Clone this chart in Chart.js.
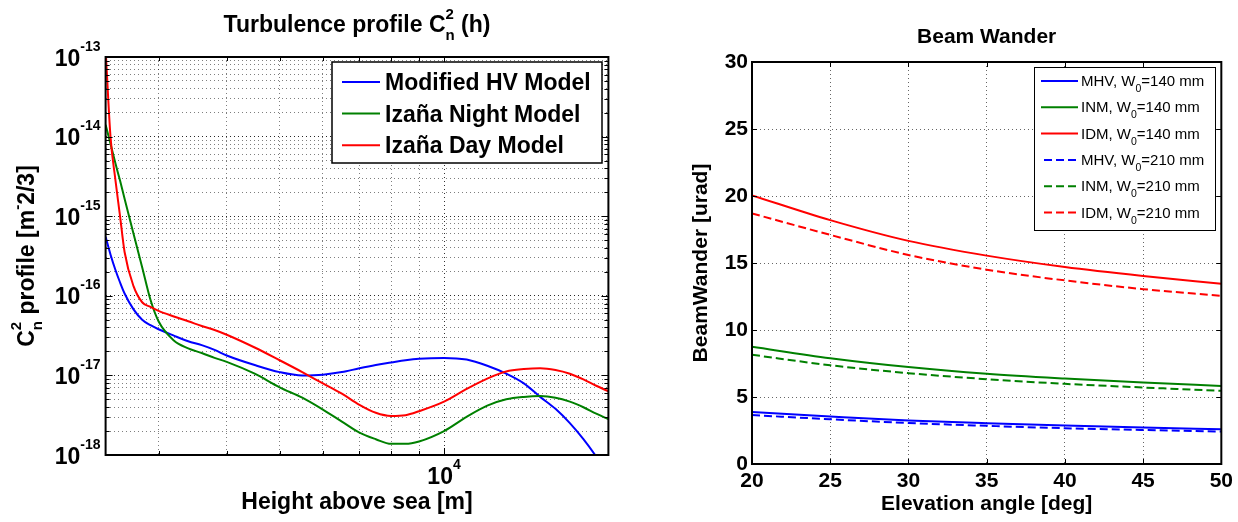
<!DOCTYPE html>
<html>
<head>
<meta charset="utf-8">
<script src="https://cdn.jsdelivr.net/npm/chart.js@4.4.0/dist/chart.umd.min.js"></script>
<style>
  html, body { margin: 0; padding: 0; background: #fff; }
  #left { position: absolute; left: 0; top: 0; width: 640px; height: 522px; }
  #right { position: absolute; left: 640px; top: 0; width: 598px; height: 522px; }
</style>
</head>
<body>
<div id="left"><canvas id="profileChart"></canvas></div>
<div id="right"><canvas id="wanderChart"></canvas></div>
<script>
// ---- turbulence profile (left) ----
const heights = [2400, 2450, 2500, 2550, 2600, 2700, 2800, 2900, 3000, 3200, 3400, 3600, 3800, 4000,
  4500, 5000, 5500, 6000, 6500, 7000, 7500, 8000, 8500, 9000, 10000, 11000, 12000, 13000, 14000,
  15000, 16000, 17000, 18000, 19000, 20000];
const cn2MHV = [5.5e-16, 3.31e-16, 2.14e-16, 1.48e-16, 1.07e-16, 6.76e-17, 5.01e-17, 4.27e-17, 3.8e-17,
  3.16e-17, 2.69e-17, 2.4e-17, 2.09e-17, 1.78e-17, 1.35e-17, 1.1e-17, 1.0e-17, 1.02e-17, 1.1e-17,
  1.23e-17, 1.35e-17, 1.45e-17, 1.55e-17, 1.62e-17, 1.66e-17, 1.58e-17, 1.32e-17, 1.05e-17, 7.94e-18,
  5.37e-18, 3.8e-18, 2.51e-18, 1.58e-18, 9.55e-19, 5.62e-19];
const cn2Night = [1.41e-14, 8.13e-15, 4.68e-15, 2.82e-15, 1.66e-15, 6.03e-16, 2.29e-16, 8.91e-17, 4.79e-17,
  2.75e-17, 2.19e-17, 1.91e-17, 1.66e-17, 1.48e-17, 1.05e-17, 7.08e-18, 5.25e-18, 3.72e-18, 2.63e-18,
  1.91e-18, 1.58e-18, 1.38e-18, 1.38e-18, 1.48e-18, 2.0e-18, 3.02e-18, 4.17e-18, 5.01e-18, 5.37e-18,
  5.5e-18, 5.25e-18, 4.68e-18, 3.98e-18, 3.31e-18, 2.82e-18];
const cn2Day = [1.26e-13, 1.0e-14, 2.95e-15, 1.02e-15, 3.55e-16, 1.32e-16, 8.3e-17, 7.24e-17, 6.46e-17,
  5.5e-17, 4.79e-17, 4.17e-17, 3.72e-17, 3.24e-17, 2.24e-17, 1.55e-17, 1.1e-17, 7.94e-18, 5.89e-18,
  4.27e-18, 3.39e-18, 3.09e-18, 3.16e-18, 3.55e-18, 4.68e-18, 6.76e-18, 9.12e-18, 1.12e-17, 1.2e-17,
  1.23e-17, 1.17e-17, 1.05e-17, 8.91e-18, 7.41e-18, 6.31e-18];
const profileNames = ['Modified HV Model', 'Izaña Night Model', 'Izaña Day Model'];

const yMajorTicks = [1e-18, 1e-17, 1e-16, 1e-15, 1e-14, 1e-13];
const yTickExponents = ['-18', '-17', '-16', '-15', '-14', '-13'];
const xGridTicks = [3000, 4000, 5000, 6000, 7000, 8000, 9000, 10000, 20000];
const xLabelTicks = [10000];
const xTickExponents = ['4'];

// ---- beam wander (right) ----
const elevation = [20, 25, 30, 35, 40, 45, 50];
const mhv140 = [3.88, 3.55, 3.25, 3.04, 2.87, 2.72, 2.6];
const inm140 = [8.75, 7.9, 7.24, 6.74, 6.38, 6.08, 5.83];
const idm140 = [20.05, 18.2, 16.65, 15.55, 14.7, 14.03, 13.45];
const mhv210 = [3.65, 3.34, 3.06, 2.85, 2.67, 2.54, 2.42];
const inm210 = [8.15, 7.37, 6.78, 6.33, 5.98, 5.71, 5.46];
const idm210 = [18.7, 17.1, 15.6, 14.5, 13.7, 13.05, 12.55];
const wanderNames = ['MHV, W₀=140 mm', 'INM, W₀=140 mm', 'IDM, W₀=140 mm',
  'MHV, W₀=210 mm', 'INM, W₀=210 mm', 'IDM, W₀=210 mm'];

const FONT = "'Liberation Sans', Arial, Helvetica, sans-serif";
const BLUE = '#0000ff', GREEN = '#008000', RED = '#ff0000';

Chart.defaults.font.family = FONT;
Chart.defaults.color = '#000';

// draws text pieces with raised / lowered parts, baseline at y
function drawRich(ctx, parts, x, y, align) {
  let total = 0;
  const widths = parts.map(p => {
    ctx.font = `${p.weight || 'bold'} ${p.size}px ${FONT}`;
    const w = ctx.measureText(p.text).width;
    if (!p.stack) total += w;
    return w;
  });
  let cx = align === 'center' ? x - total / 2 : (align === 'right' ? x - total : x);
  ctx.textAlign = 'left';
  ctx.textBaseline = 'alphabetic';
  parts.forEach((p, i) => {
    ctx.font = `${p.weight || 'bold'} ${p.size}px ${FONT}`;
    ctx.fillText(p.text, cx, y + (p.shift || 0));
    if (!p.stack) cx += widths[i];
  });
}

function seg(ctx, x1, y1, x2, y2) {
  ctx.beginPath();
  ctx.moveTo(x1, y1);
  ctx.lineTo(x2, y2);
  ctx.stroke();
}

function xy(xs, ys) {
  return xs.map((v, i) => ({x: v, y: ys[i]}));
}

// ------------------------------------------------------------------
const profilePlugin = {
  id: 'profilePlugin',
  afterDraw(chart) {
    const {ctx, chartArea: a, scales: {x, y}} = chart;
    ctx.save();
    ctx.strokeStyle = '#000';
    ctx.fillStyle = '#000';
    ctx.lineWidth = 1;
    ctx.setLineDash([]);

    // inward tick marks
    y.ticks.forEach(t => {
      const py = Math.round(y.getPixelForValue(t.value)) + 0.5;
      const len = yMajorTicks.includes(t.value) ? 7 : 4;
      seg(ctx, a.left, py, a.left + len, py);
      seg(ctx, a.right, py, a.right - len, py);
    });
    x.ticks.forEach(t => {
      const px = Math.round(x.getPixelForValue(t.value)) + 0.5;
      const len = xLabelTicks.includes(t.value) ? 7 : 4;
      seg(ctx, px, a.bottom, px, a.bottom - len);
      seg(ctx, px, a.top, px, a.top + len);
    });

    ctx.lineWidth = 2;
    ctx.strokeRect(a.left, a.top, a.right - a.left, a.bottom - a.top);

    // tick labels 10^n
    yMajorTicks.forEach((v, i) => {
      const py = y.getPixelForValue(v);
      drawRich(ctx, [{text: '10', size: 23}, {text: yTickExponents[i], size: 14, shift: -15}],
        a.left - 5, py + 8.5, 'right');
    });
    xLabelTicks.forEach((v, i) => {
      const px = x.getPixelForValue(v);
      drawRich(ctx, [{text: '10', size: 23}, {text: xTickExponents[i], size: 14, shift: -15}],
        px, 484, 'center');
    });

    // title
    drawRich(ctx, [
      {text: 'Turbulence profile C', size: 23},
      {text: '2', size: 15, shift: -13, stack: true},
      {text: 'n', size: 15, shift: 8},
      {text: ' (h)', size: 23}
    ], (a.left + a.right) / 2, 31.5, 'center');

    // y label
    ctx.save();
    ctx.translate(34, (a.top + a.bottom) / 2);
    ctx.rotate(-Math.PI / 2);
    drawRich(ctx, [
      {text: 'C', size: 23},
      {text: '2', size: 15, shift: -13, stack: true},
      {text: 'n', size: 15, shift: 8},
      {text: ' profile [m', size: 23},
      {text: '-', size: 15, shift: -12},
      {text: '2/3]', size: 23}
    ], 0, 0, 'center');
    ctx.restore();

    // legend
    const bx = 332, by = 62, bw = 270, bh = 101;
    ctx.fillStyle = '#fff';
    ctx.fillRect(bx, by, bw, bh);
    ctx.lineWidth = 1.5;
    ctx.strokeStyle = '#000';
    ctx.strokeRect(bx, by, bw, bh);
    chart.data.datasets.forEach((ds, i) => {
      const ly = 82 + i * 31.6;
      ctx.strokeStyle = ds.borderColor;
      ctx.lineWidth = 2;
      seg(ctx, 342, ly, 380, ly);
      ctx.fillStyle = '#000';
      drawRich(ctx, [{text: ds.label, size: 23}], 385, ly + 8, 'left');
    });
    ctx.restore();
  }
};

const yAllTicks = [];
yMajorTicks.forEach((d, i) => {
  yAllTicks.push(d);
  if (i < yMajorTicks.length - 1) {
    for (let m = 2; m <= 9; m++) yAllTicks.push(d * m);
  }
});

new Chart(document.getElementById('profileChart'), {
  type: 'line',
  data: {
    datasets: [
      {label: profileNames[0], data: xy(heights, cn2MHV), borderColor: BLUE, order: 3},
      {label: profileNames[1], data: xy(heights, cn2Night), borderColor: GREEN, order: 2},
      {label: profileNames[2], data: xy(heights, cn2Day), borderColor: RED, order: 1}
    ]
  },
  options: {
    responsive: true,
    maintainAspectRatio: false,
    animation: false,
    datasets: {
      line: {borderWidth: 2, pointRadius: 0, cubicInterpolationMode: 'monotone', fill: false}
    },
    layout: {padding: {top: 57, right: 31.6, left: 0, bottom: 0}},
    plugins: {legend: {display: false}, title: {display: false}, tooltip: {enabled: false}},
    scales: {
      x: {
        type: 'logarithmic',
        min: 2400,
        max: 20000,
        afterBuildTicks: s => { s.ticks = xGridTicks.map(v => ({value: v})); },
        afterFit: s => { s.height = 522 - 455; },
        ticks: {display: false},
        grid: {
          drawTicks: false,
          lineWidth: 1,
          color: c => (c.tick && xLabelTicks.includes(c.tick.value)) ? 'rgba(0,0,0,0.8)' : 'rgba(0,0,0,0.5)'
        },
        border: {display: false, dash: [1, 3]},
        title: {
          display: true,
          text: 'Height above sea [m]',
          font: {size: 23, weight: 'bold'},
          padding: {top: 0, bottom: 6}
        }
      },
      y: {
        type: 'logarithmic',
        min: 1e-18,
        max: 1e-13,
        afterBuildTicks: s => { s.ticks = yAllTicks.map(v => ({value: v})); },
        afterFit: s => { s.width = 105.6; },
        ticks: {display: false},
        grid: {
          drawTicks: false,
          lineWidth: 1,
          color: c => (c.tick && yMajorTicks.includes(c.tick.value)) ? 'rgba(0,0,0,0.85)' : 'rgba(0,0,0,0.5)'
        },
        border: {display: false, dash: [1, 3]}
      }
    }
  },
  plugins: [profilePlugin]
});

// ------------------------------------------------------------------
const wanderPlugin = {
  id: 'wanderPlugin',
  afterDraw(chart) {
    const {ctx, chartArea: a, scales: {x, y}} = chart;
    ctx.save();
    ctx.strokeStyle = '#000';
    ctx.lineWidth = 1;
    ctx.setLineDash([]);
    y.ticks.forEach(t => {
      const py = Math.round(y.getPixelForValue(t.value)) + 0.5;
      seg(ctx, a.left, py, a.left + 5, py);
      seg(ctx, a.right, py, a.right - 5, py);
    });
    x.ticks.forEach(t => {
      const px = Math.round(x.getPixelForValue(t.value)) + 0.5;
      seg(ctx, px, a.bottom, px, a.bottom - 5);
      seg(ctx, px, a.top, px, a.top + 5);
    });
    ctx.lineWidth = 2;
    ctx.strokeRect(a.left, a.top, a.right - a.left, a.bottom - a.top);

    // legend
    const bx = 394, by = 67, bw = 181, bh = 163;
    ctx.fillStyle = '#fff';
    ctx.fillRect(bx, by, bw, bh);
    ctx.lineWidth = 1;
    ctx.strokeStyle = '#000';
    ctx.strokeRect(bx + 0.5, by + 0.5, bw, bh);
    chart.data.datasets.forEach((ds, i) => {
      const ly = 81 + i * 26.3;
      ctx.strokeStyle = ds.borderColor;
      ctx.lineWidth = 2;
      ctx.setLineDash(ds.borderDash || []);
      seg(ctx, ds.borderDash ? 404 : 401, ly, 438, ly);
      ctx.setLineDash([]);
      ctx.fillStyle = '#000';
      const pieces = ds.label.split('₀');
      drawRich(ctx, [
        {text: pieces[0], size: 15, weight: 'normal'},
        {text: '0', size: 10.5, weight: 'normal', shift: 6},
        {text: pieces[1], size: 15, weight: 'normal'}
      ], 441, ly + 5, 'left');
    });
    ctx.restore();
  }
};

const wanderSeries = [mhv140, inm140, idm140, mhv210, inm210, idm210];
const wanderColors = [BLUE, GREEN, RED, BLUE, GREEN, RED];

new Chart(document.getElementById('wanderChart'), {
  type: 'line',
  data: {
    datasets: wanderSeries.map((s, i) => ({
      label: wanderNames[i],
      data: xy(elevation, s),
      borderColor: wanderColors[i],
      borderDash: i >= 3 ? [8, 4] : undefined,
      order: 6 - i
    }))
  },
  options: {
    responsive: true,
    maintainAspectRatio: false,
    animation: false,
    datasets: {
      line: {borderWidth: 2, pointRadius: 0, cubicInterpolationMode: 'monotone', fill: false}
    },
    layout: {padding: {top: 0, right: 14, left: 0, bottom: 0}},
    plugins: {
      legend: {display: false},
      tooltip: {enabled: false},
      title: {
        display: true,
        fullSize: false,
        text: 'Beam Wander',
        font: {size: 21, weight: 'bold'},
        color: '#000',
        padding: {top: 24.9, bottom: 11.9}
      }
    },
    scales: {
      x: {
        type: 'linear',
        min: 20,
        max: 50,
        afterFit: s => { s.height = 58; },
        ticks: {stepSize: 5, padding: 5, font: {size: 21, weight: 'bold'}, color: '#000'},
        grid: {drawTicks: false, lineWidth: 1, color: 'rgba(0,0,0,0.6)'},
        border: {display: false, dash: [1, 3]},
        title: {
          display: true,
          text: 'Elevation angle [deg]',
          font: {size: 21, weight: 'bold'},
          padding: {top: 0, bottom: 5}
        }
      },
      y: {
        type: 'linear',
        min: 0,
        max: 30,
        afterFit: s => { s.width = 112; },
        ticks: {stepSize: 5, padding: 4, font: {size: 21, weight: 'bold'}, color: '#000'},
        grid: {drawTicks: false, lineWidth: 1, color: 'rgba(0,0,0,0.6)'},
        border: {display: false, dash: [1, 3]},
        title: {
          display: true,
          text: 'BeamWander [urad]',
          font: {size: 21, weight: 'bold'},
          padding: {top: 49, bottom: 0}
        }
      }
    }
  },
  plugins: [wanderPlugin]
});
</script>
</body>
</html>
